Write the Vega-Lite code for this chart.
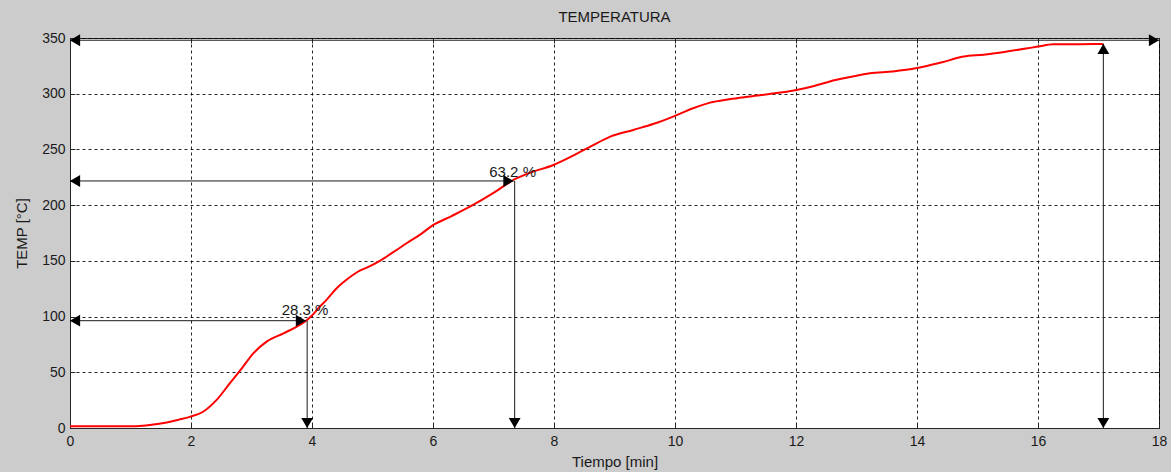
{
  "$schema": "https://vega.github.io/schema/vega-lite/v6.json",
  "width": 1089,
  "height": 390,
  "autosize": {"type": "none"},
  "padding": {"left": 70, "top": 38, "right": 12, "bottom": 44},
  "background": "#cccccc",
  "title": {"text": "TEMPERATURA", "fontSize": 15, "font": "Liberation Sans", "fontWeight": "normal", "color": "#1a1a1a", "offset": 6},
  "config": {
    "view": {"fill": "white", "stroke": "#262626", "strokeWidth": 1},
    "axis": {
      "labelFont": "Liberation Sans", "labelFontSize": 14, "labelColor": "#1a1a1a",
      "titleFont": "Liberation Sans", "titleFontSize": 15, "titleFontWeight": "normal", "titleColor": "#1a1a1a",
      "domainColor": "#262626", "tickColor": "#262626", "tickSize": -5,
      "gridColor": "#000000", "gridOpacity": 0.85, "gridDash": [3, 3], "gridWidth": 1
    }
  },
  "datasets": {
    "curve": [
      {"t": 0, "temp": 1.5}, {"t": 0.5, "temp": 1.5}, {"t": 1.0, "temp": 1.5}, {"t": 1.2, "temp": 2},
      {"t": 1.32, "temp": 2.7}, {"t": 1.6, "temp": 5}, {"t": 1.8, "temp": 7.5}, {"t": 1.98, "temp": 10},
      {"t": 2.2, "temp": 14.6}, {"t": 2.42, "temp": 25}, {"t": 2.64, "temp": 40}, {"t": 2.84, "temp": 53.6},
      {"t": 3.03, "temp": 67}, {"t": 3.25, "temp": 77.5}, {"t": 3.53, "temp": 85}, {"t": 3.75, "temp": 91},
      {"t": 3.88, "temp": 95.4}, {"t": 4.0, "temp": 101}, {"t": 4.13, "temp": 109}, {"t": 4.24, "temp": 115},
      {"t": 4.4, "temp": 125}, {"t": 4.57, "temp": 133}, {"t": 4.75, "temp": 140}, {"t": 4.95, "temp": 145},
      {"t": 5.12, "temp": 150}, {"t": 5.35, "temp": 158}, {"t": 5.57, "temp": 166}, {"t": 5.8, "temp": 174},
      {"t": 6.0, "temp": 182}, {"t": 6.3, "temp": 190}, {"t": 6.61, "temp": 198.6}, {"t": 7.0, "temp": 211},
      {"t": 7.33, "temp": 222.6}, {"t": 7.6, "temp": 229}, {"t": 7.99, "temp": 236}, {"t": 8.3, "temp": 244},
      {"t": 8.6, "temp": 252.5}, {"t": 8.93, "temp": 261.5}, {"t": 9.31, "temp": 267.5}, {"t": 9.65, "temp": 273},
      {"t": 9.97, "temp": 279.5}, {"t": 10.3, "temp": 287}, {"t": 10.58, "temp": 292}, {"t": 10.9, "temp": 295},
      {"t": 11.24, "temp": 297.5}, {"t": 11.74, "temp": 301}, {"t": 12.01, "temp": 303.4}, {"t": 12.3, "temp": 307},
      {"t": 12.56, "temp": 311}, {"t": 12.9, "temp": 315}, {"t": 13.22, "temp": 318.4}, {"t": 13.6, "temp": 320},
      {"t": 14.0, "temp": 323}, {"t": 14.4, "temp": 328}, {"t": 14.77, "temp": 333.3}, {"t": 15.1, "temp": 335},
      {"t": 15.48, "temp": 337.8}, {"t": 15.8, "temp": 340.5}, {"t": 16.0, "temp": 342.3}, {"t": 16.25, "temp": 344.4},
      {"t": 16.7, "temp": 344.5}, {"t": 17.08, "temp": 344.7}
    ],
    "segments": [
      {"x": 0, "x2": 18, "y": 348, "y2": 348},
      {"x": 17.08, "x2": 17.08, "y": 0, "y2": 344.7},
      {"x": 0, "x2": 3.9, "y": 96.3, "y2": 96.3},
      {"x": 3.92, "x2": 3.92, "y": 96.3, "y2": 0},
      {"x": 0, "x2": 7.33, "y": 221.7, "y2": 221.7},
      {"x": 7.35, "x2": 7.35, "y": 221.7, "y2": 0}
    ],
    "heads": [
      {"x": 0, "y": 348, "dir": "left"}, {"x": 0, "y": 96.3, "dir": "left"}, {"x": 0, "y": 221.7, "dir": "left"},
      {"x": 18, "y": 348, "dir": "right"}, {"x": 3.9, "y": 96.3, "dir": "right"}, {"x": 7.33, "y": 221.7, "dir": "right"},
      {"x": 17.08, "y": 0, "dir": "down"}, {"x": 3.92, "y": 0, "dir": "down"}, {"x": 7.35, "y": 0, "dir": "down"},
      {"x": 17.08, "y": 344.7, "dir": "up"}
    ],
    "labels": [
      {"x": 3.5, "y": 106, "label": "28.3 %"},
      {"x": 6.93, "y": 230, "label": "63.2 %"}
    ]
  },
  "resolve": {"axis": {"x": "independent", "y": "independent"}},
  "layer": [
    {
      "data": {"name": "curve"},
      "mark": {"type": "line", "color": "#ff0000", "strokeWidth": 2, "interpolate": "monotone"},
      "encoding": {
        "x": {"field": "t", "type": "quantitative", "scale": {"domain": [0, 18], "nice": false},
          "axis": {"values": [0, 2, 4, 6, 8, 10, 12, 14, 16, 18], "title": "Tiempo [min]", "grid": true, "labelPadding": 11, "titlePadding": 6, "labelFlush": false}},
        "y": {"field": "temp", "type": "quantitative", "scale": {"domain": [0, 350], "nice": false},
          "axis": {"values": [0, 50, 100, 150, 200, 250, 300, 350], "title": "TEMP [°C]", "grid": true, "labelPadding": 10, "titlePadding": 12, "labelFlush": false}}
      }
    },
    {
      "data": {"name": "segments"},
      "mark": {"type": "rule", "color": "#1a1a1a", "strokeWidth": 1},
      "encoding": {
        "x": {"field": "x", "type": "quantitative", "axis": {"orient": "top", "values": [0, 2, 4, 6, 8, 10, 12, 14, 16, 18], "labels": false, "title": null, "grid": false, "domain": false}},
        "x2": {"field": "x2"},
        "y": {"field": "y", "type": "quantitative", "axis": {"orient": "right", "values": [0, 50, 100, 150, 200, 250, 300, 350], "labels": false, "title": null, "grid": false, "domain": false}},
        "y2": {"field": "y2"}
      }
    },
    {
      "data": {"name": "heads"},
      "transform": [{"filter": "datum.dir === 'left'"}],
      "mark": {"type": "point", "shape": "triangle-left", "filled": true, "color": "#000000", "size": 140, "opacity": 1, "xOffset": 5},
      "encoding": {"x": {"field": "x", "type": "quantitative", "axis": null}, "y": {"field": "y", "type": "quantitative", "axis": null}}
    },
    {
      "data": {"name": "heads"},
      "transform": [{"filter": "datum.dir === 'right'"}],
      "mark": {"type": "point", "shape": "triangle-right", "filled": true, "color": "#000000", "size": 140, "opacity": 1, "xOffset": -5},
      "encoding": {"x": {"field": "x", "type": "quantitative", "axis": null}, "y": {"field": "y", "type": "quantitative", "axis": null}}
    },
    {
      "data": {"name": "heads"},
      "transform": [{"filter": "datum.dir === 'down'"}],
      "mark": {"type": "point", "shape": "triangle-down", "filled": true, "color": "#000000", "size": 140, "opacity": 1, "yOffset": -5},
      "encoding": {"x": {"field": "x", "type": "quantitative", "axis": null}, "y": {"field": "y", "type": "quantitative", "axis": null}}
    },
    {
      "data": {"name": "heads"},
      "transform": [{"filter": "datum.dir === 'up'"}],
      "mark": {"type": "point", "shape": "triangle-up", "filled": true, "color": "#000000", "size": 140, "opacity": 1, "yOffset": 5},
      "encoding": {"x": {"field": "x", "type": "quantitative", "axis": null}, "y": {"field": "y", "type": "quantitative", "axis": null}}
    },
    {
      "data": {"name": "labels"},
      "mark": {"type": "text", "align": "left", "baseline": "middle", "font": "Liberation Sans", "fontSize": 15, "color": "#1a1a1a"},
      "encoding": {"x": {"field": "x", "type": "quantitative", "axis": null}, "y": {"field": "y", "type": "quantitative", "axis": null}, "text": {"field": "label"}}
    }
  ]
}
